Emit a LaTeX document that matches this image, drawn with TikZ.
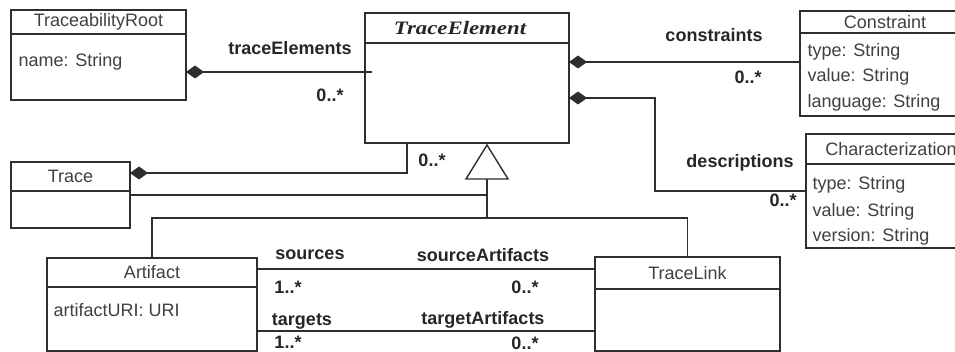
\documentclass[tikz,border=0pt]{standalone}
\usepackage{fontspec}
\setmainfont{Liberation Sans}
\newfontfamily\tefont{Liberation Serif}
\usetikzlibrary{arrows.meta,calc}
\definecolor{lc}{HTML}{2E2E2E}
\definecolor{cn}{HTML}{404040}
\definecolor{lt}{HTML}{262626}
\begin{document}
\begin{tikzpicture}[x=1pt,y=-1pt, line width=1.4pt, draw=lc,
  cls/.style={draw=lc, line width=1.4pt, anchor=north west, inner sep=0pt, outer sep=0pt},
  cname/.style={font=\fontsize{18}{20}\selectfont, text=cn, inner sep=0pt},
  attr/.style={font=\fontsize{18}{20}\selectfont, text=cn, anchor=west, inner sep=0pt},
  lab/.style={font=\fontsize{18}{20}\selectfont\bfseries, text=lt, inner sep=0pt},
  comp/.style={{Diamond[length=18pt,width=13pt]}-}]
\useasboundingbox[fill=white] (0,0) rectangle (955,352);

% TraceabilityRoot
\node[cls, minimum width=175pt, minimum height=90pt] (root) at (11,10) {};
\draw ($(root.north west)+(0,24)$) -- ($(root.north east)+(0,24)$);
\node[cname] (rootT) at ($(root.north)+(0,12)$) {TraceabilityRoot};
\node[attr] (rootA) at ($(root.north west)+(7,52)$) {name: String};

% TraceElement
\node[cls, minimum width=204pt, minimum height=130pt] (te) at (365,13) {};
\draw ($(te.north west)+(0,30)$) -- ($(te.north east)+(0,30)$);
\node[inner sep=0pt, text=lt, font=\tefont\bfseries\itshape\fontsize{19}{20}\selectfont] (teT) at ($(te.north)+(-7,15)$) {\scalebox{1.2}[1]{TraceElement}};

% Constraint
\node[cls, minimum width=170pt, minimum height=105pt] (cons) at (800,11) {};
\draw ($(cons.north west)+(0,22)$) -- ($(cons.north east)+(0,22)$);
\node[cname] (consT) at ($(cons.north)+(0,11)$) {Constraint};
\node[attr] (consA1) at ($(cons.north west)+(7,41)$) {type: String};
\node[attr] (consA2) at ($(cons.north west)+(7,66)$) {value: String};
\node[attr] (consA3) at ($(cons.north west)+(7,92)$) {language: String};

% Characterization
\node[cls, minimum width=170pt, minimum height=114pt] (char) at (806,134) {};
\draw ($(char.north west)+(0,30)$) -- ($(char.north east)+(0,30)$);
\node[cname] (charT) at ($(char.north)+(0,15)$) {Characterization};
\node[attr] (charA1) at ($(char.north west)+(6,51)$) {type: String};
\node[attr] (charA2) at ($(char.north west)+(6,78)$) {value: String};
\node[attr] (charA3) at ($(char.north west)+(6,103)$) {version: String};

% Trace
\node[cls, minimum width=119pt, minimum height=66pt] (trace) at (11,162) {};
\draw ($(trace.north west)+(0,29)$) -- ($(trace.north east)+(0,29)$);
\node[cname] (traceT) at ($(trace.north)+(0,14.5)$) {Trace};

% Artifact
\node[cls, minimum width=210pt, minimum height=93pt] (art) at (47,258) {};
\draw ($(art.north west)+(0,29)$) -- ($(art.north east)+(0,29)$);
\node[cname] (artT) at ($(art.north)+(0,14.5)$) {Artifact};
\node[attr] (artA) at ($(art.north west)+(6,52)$) {artifactURI:\ URI};

% TraceLink
\node[cls, minimum width=185pt, minimum height=94pt] (tl) at (595,257) {};
\draw ($(tl.north west)+(0,32)$) -- ($(tl.north east)+(0,32)$);
\node[cname] (tlT) at ($(tl.north)+(0,16)$) {TraceLink};

% compositions
\draw[comp] ($(root.east)+(0,17)$) -- ($(te.west)+(7,-6)$);
\path ($(te.east)+(0,-16)$) coordinate (c1);
\draw[comp] (c1) -- (c1 -| cons.west);
\draw[comp] ($(te.east)+(0,20)$) -- ++(86,0) |- (char.west);
\draw[comp] ($(trace.east)+(0,-22)$) -| ($(te.south west)+(42,0)$);

% generalization
\coordinate (gapex) at ($(te.south)+(20,2)$);
\draw[fill=white] (gapex) -- ++(-21,34) -- ++(42,0) -- cycle;
\coordinate (gb) at ($(gapex)+(0,34)$);
\draw (trace.east) -- (trace.east -| gb);
\draw (gb) -- ++(0,39) coordinate (gj);
\draw (art.north) |- (gj) -| (tl.north);

% associations
\path ($(art.east)+(0,-35.5)$) coordinate (s1) ($(art.east)+(0,26.5)$) coordinate (t1);
\draw (s1) -- (s1 -| tl.west);
\draw (t1) -- (t1 -| tl.west);

% labels
\node[lab] (l1) at (290,48) {traceElements};
\node[lab] (l2) at (330,95) {0..*};
\node[lab] (l3) at (714,35) {constraints};
\node[lab] (l4) at (748,77) {0..*};
\node[lab] (l5) at (740,163) {descriptions};
\node[lab] (l6) at (783,200) {0..*};
\node[lab] (l7) at (432,160) {0..*};
\node[lab] (l8) at (310,255) {sources};
\node[lab] (l9) at (483,255) {sourceArtifacts};
\node[lab] (l10) at (288,287) {1..*};
\node[lab] (l11) at (525,287) {0..*};
\node[lab] (l12) at (302,322) {targets};
\node[lab] (l13) at (483,320) {targetArtifacts};
\node[lab] (l14) at (288,342) {1..*};
\node[lab] (l15) at (525,343) {0..*};
\end{tikzpicture}
\end{document}
